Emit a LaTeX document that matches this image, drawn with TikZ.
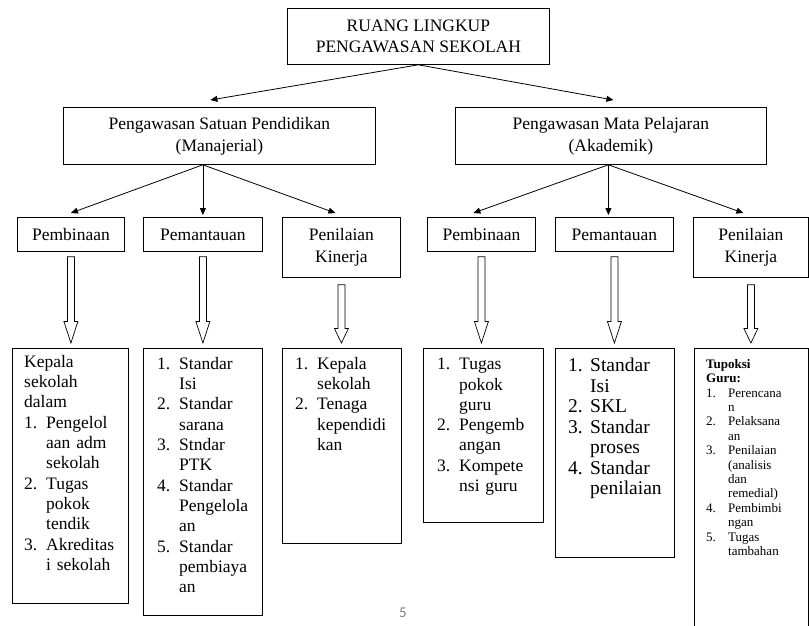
\documentclass[tikz,border=0pt]{standalone}
\usepackage{fontspec}
\setmainfont{Liberation Serif}
\newfontfamily\pagefont{Carlito}
\usetikzlibrary{arrows.meta,calc}

\newcommand\numl[1]{\makebox[22pt][l]{#1}}
\newcommand\contl{\hspace*{22pt}}

\tikzset{
    box/.style={draw, line width=0.8pt, anchor=north west, align=center,
        inner sep=0pt, font=\fontsize{17.5}{22}\selectfont},
    bigbox/.style={draw, line width=0.8pt, anchor=north west, inner sep=0pt},
    list/.style={anchor=north west, inner sep=0pt, align=left,
        font=\fontsize{17.5}{20.3}\selectfont},
    conn/.style={-{Triangle[length=7pt,width=6pt]}, line width=0.8pt},
    hollow/.style={line width=0.7pt, to path={
        let \p1=(\tikztostart), \p2=(\tikztotarget),
            \n1={0.25*(\y1-\y2)} in
        (\x1-3.5pt,\y1) -- (\x1+3.5pt,\y1) -- (\x1+3.5pt,\y2+\n1)
        -- (\x1+7pt,\y2+\n1) -- (\x1,\y2) -- (\x1-7pt,\y2+\n1)
        -- (\x1-3.5pt,\y2+\n1) -- cycle}}
}

\begin{document}
\begin{tikzpicture}[x=1pt, y=-1pt]
    \clip (0, 0) rectangle (809, 625);

    % top
    \node[box, minimum width=262pt, minimum height=56pt,
        font=\fontsize{17.5}{21}\selectfont] (top) at (287, 8)
        {RUANG LINGKUP\\PENGAWASAN SEKOLAH};

    % second row
    \node[box, minimum width=312pt, minimum height=57pt] (man) at (63, 107)
        {Pengawasan Satuan Pendidikan\\(Manajerial)};
    \node[box, minimum width=311pt, minimum height=57pt] (aka) at (455, 107)
        {Pengawasan Mata Pelajaran\\(Akademik)};

    % third row
    \node[box, minimum width=107pt, minimum height=34pt] (pbL) at (17, 217) {Pembinaan};
    \node[box, minimum width=119pt, minimum height=34pt] (pmL) at (143, 217) {Pemantauan};
    \node[box, minimum width=118pt, minimum height=60pt] (pkL) at (282, 217) {Penilaian\\Kinerja};
    \node[box, minimum width=108pt, minimum height=34pt] (pbR) at (427, 217) {Pembinaan};
    \node[box, minimum width=118pt, minimum height=34pt] (pmR) at (555, 217) {Pemantauan};
    \node[box, minimum width=115pt, minimum height=60pt] (pkR) at (693, 217) {Penilaian\\Kinerja};

    % bottom boxes
    \node[bigbox, minimum width=116pt, minimum height=255pt] (bA) at (12, 348) {};
    \node[bigbox, minimum width=119pt, minimum height=267pt] (bB) at (143, 348) {};
    \node[bigbox, minimum width=119pt, minimum height=195pt] (bC) at (282, 348) {};
    \node[bigbox, minimum width=120pt, minimum height=174pt] (bD) at (423, 348) {};
    \node[bigbox, minimum width=119pt, minimum height=209pt] (bE) at (555, 348) {};
    \node[bigbox, minimum width=114pt, minimum height=290pt] (bF) at (694, 348) {};

    \node[list, text width=104pt] (tA) at ([shift={(12pt,-7pt)}]bA.north west)
        {Kepala\\ sekolah\\ dalam\\
         \numl{1.}Pengelol\\ \contl aan adm\\ \contl sekolah\\
         \numl{2.}Tugas\\ \contl pokok\\ \contl tendik\\
         \numl{3.}Akreditas\\ \contl i sekolah};
    \node[list, text width=105pt] (tB) at ([shift={(14pt,-9pt)}]bB.north west)
        {\numl{1.}Standar\\ \contl Isi\\
         \numl{2.}Standar\\ \contl sarana\\
         \numl{3.}Stndar\\ \contl PTK\\
         \numl{4.}Standar\\ \contl Pengelola\\ \contl an\\
         \numl{5.}Standar\\ \contl pembiaya\\ \contl an};
    \node[list, text width=105pt] (tC) at ([shift={(13pt,-9pt)}]bC.north west)
        {\numl{1.}Kepala\\ \contl sekolah\\
         \numl{2.}Tenaga\\ \contl kependidi\\ \contl kan};
    \node[list, text width=106pt] (tD) at ([shift={(14pt,-10pt)}]bD.north west)
        {\numl{1.}Tugas\\ \contl pokok\\ \contl guru\\
         \numl{2.}Pengemb\\ \contl angan\\
         \numl{3.}Kompete\\ \contl nsi guru};
    \node[list, text width=106pt, font=\fontsize{19.5}{20.5}\selectfont] (tE)
        at ([shift={(13pt,-10pt)}]bE.north west)
        {\numl{1.}Standar\\ \contl Isi\\
         \numl{2.}SKL\\
         \numl{3.}Standar\\ \contl proses\\
         \numl{4.}Standar\\ \contl penilaian};
    \node[list, text width=102pt, font=\fontsize{13}{14.4}\selectfont] (tF)
        at ([shift={(12pt,-11pt)}]bF.north west)
        {\textbf{Tupoksi}\\ \textbf{Guru:}\\
         \numl{1.}Perencana\\ \contl n\\
         \numl{2.}Pelaksana\\ \contl an\\
         \numl{3.}Penilaian\\ \contl (analisis\\ \contl dan\\ \contl remedial)\\
         \numl{4.}Pembimbi\\ \contl ngan\\
         \numl{5.}Tugas\\ \contl tambahan};

    % arrows
    \coordinate (manfork) at ([xshift=-16.5pt]man.south);
    \coordinate (akafork) at ([xshift=-2.5pt]aka.south);
    \draw[conn] (top.south) -- ([shift={(-9pt,7pt)}]man.north);
    \draw[conn] (top.south) -- ([shift={(2.5pt,7pt)}]aka.north);
    \foreach \a/\b/\dx/\dy in {
            manfork/pbL/0/4,
            manfork/pmL/0/2,
            manfork/pkL/-6/4,
            akafork/pbR/-8/4,
            akafork/pmR/-6/2,
            akafork/pkR/-7.5/4
        } {
        \draw[conn] (\a) -- ([shift={(\dx pt,\dy pt)}]\b.north);
    }
    \foreach \a/\b/\g in {
            pbL/bA/5, pmL/bB/5, pkL/bC/7,
            pbR/bD/5, pmR/bE/5, pkR/bF/7
        } {
        \draw[hollow] ([yshift=-\g pt]\a.south) to ([yshift=5pt]\b.north);
    }

    \node[font=\pagefont\fontsize{15}{15}\selectfont, text=black!50] (page) at (403, 613) {5};
\end{tikzpicture}
\end{document}
